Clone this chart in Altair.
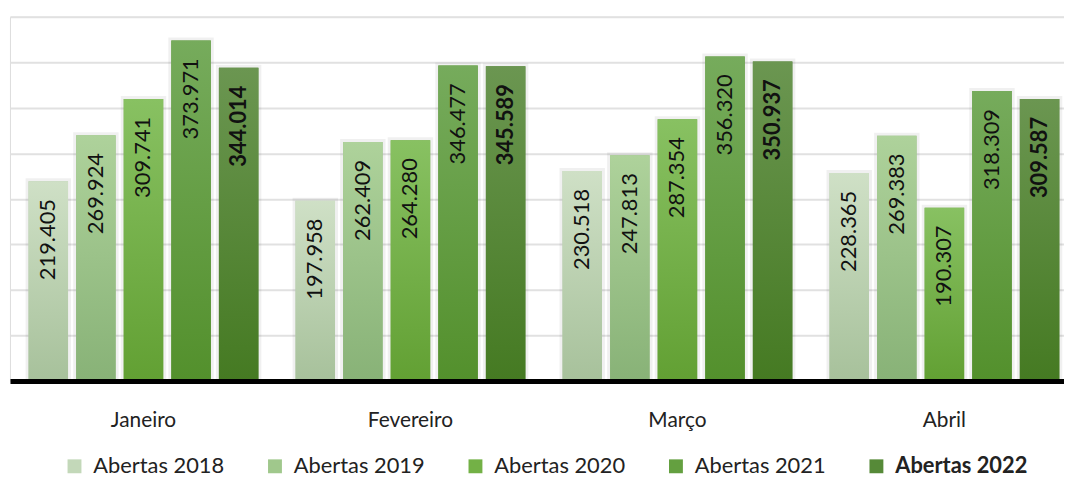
import altair as alt
import pandas as pd

meses = ["Janeiro", "Fevereiro", "Março", "Abril"]
series = ["Abertas 2018", "Abertas 2019", "Abertas 2020", "Abertas 2021", "Abertas 2022"]
v2018 = [219.405, 197.958, 230.518, 228.365]
v2019 = [269.924, 262.409, 247.813, 269.383]
v2020 = [309.741, 264.280, 287.354, 190.307]
v2021 = [373.971, 346.477, 356.320, 318.309]
v2022 = [344.014, 345.589, 350.937, 309.587]

legend_colors = ["#c3d8b9", "#a0c88c", "#73b146", "#64a040", "#568a38"]
grad_top = ["#cfe0c6", "#aed29b", "#88c162", "#76ab5c", "#6b9651"]
grad_bottom = ["#a7c19b", "#88b277", "#62a033", "#53902c", "#457a22"]

rows = []
for s, vals in zip(series, [v2018, v2019, v2020, v2021, v2022]):
    for m, v in zip(meses, vals):
        rows.append({"Mes": m, "Serie": s, "Valor": v})
df = pd.DataFrame(rows)


def grad(top, bottom):
    return {
        "gradient": "linear",
        "x1": 0, "y1": 0, "x2": 0, "y2": 1,
        "stops": [{"offset": 0, "color": top}, {"offset": 1, "color": bottom}],
    }


FONT = "Lato"

base = alt.Chart(df).encode(
    x=alt.X(
        "Mes:N",
        sort=meses,
        scale=alt.Scale(range=[0, 1076], paddingInner=0, paddingOuter=0),
        axis=alt.Axis(
            title=None, labelFont=FONT, labelFontSize=21, labelColor="#222222",
            labelPadding=29, ticks=False, domainColor="#000000", domainWidth=5,
            labelAngle=0, grid=False, zindex=1,
        ),
    ),
    xOffset=alt.XOffset(
        "Serie:N", sort=series,
        scale=alt.Scale(domain=series, paddingInner=0.17, paddingOuter=0.39),
    ),
    y=alt.Y(
        "Valor:Q",
        scale=alt.Scale(domain=[0, 400], nice=False, zero=True),
        axis=alt.Axis(
            title=None, labels=False, ticks=False, domain=False,
            values=[0, 50, 100, 150, 200, 250, 300, 350, 400],
            gridColor="#e1e1e1", gridWidth=2,
        ),
    ),
)

legend_layer = base.mark_bar(stroke="#000000", strokeOpacity=0.06, strokeWidth=6).encode(
    color=alt.Color(
        "Serie:N", sort=series,
        scale=alt.Scale(domain=series, range=legend_colors),
        legend=alt.Legend(
            title=None, orient="none", legendX=54, legendY=442,
            direction="horizontal", columnPadding=40, padding=0,
            symbolType="square", symbolSize=196, symbolStrokeWidth=0,
            labelFont=FONT, labelFontSize=22, labelColor="#222222", labelOffset=8,
            labelLimit=300,
            labelFontWeight=alt.ExprRef(
                "datum.value == 'Abertas 2022' ? 'bold' : 'normal'"),
        ),
    )
)

cond = alt.when(alt.datum.Serie == series[0]).then(alt.value(grad(grad_top[0], grad_bottom[0])))
for i in range(1, 4):
    cond = cond.when(alt.datum.Serie == series[i]).then(alt.value(grad(grad_top[i], grad_bottom[i])))
cond = cond.otherwise(alt.value(grad(grad_top[4], grad_bottom[4])))

grad_layer = base.mark_bar().encode(color=cond)

text_normal = base.transform_filter(alt.datum.Serie != "Abertas 2022").mark_text(
    angle=270, align="right", baseline="middle", dx=-18,
    font=FONT, fontSize=22, color="#111111",
).encode(text=alt.Text("Valor:Q", format=".3f"))

text_bold = base.transform_filter(alt.datum.Serie == "Abertas 2022").mark_text(
    angle=270, align="right", baseline="middle", dx=-18,
    font=FONT, fontSize=22, fontWeight="bold", color="#111111",
).encode(text=alt.Text("Valor:Q", format=".3f"))

chart = alt.layer(legend_layer, grad_layer, text_normal, text_bold).properties(
    width=1062, height=367,
    autosize=alt.AutoSizeParams(type="none"),
    padding={"left": 2, "top": 7, "right": 0, "bottom": 95},
).configure_view(stroke=None).configure(background="white")

chart.save("out.html", embed_options={"renderer": "svg", "actions": False})
